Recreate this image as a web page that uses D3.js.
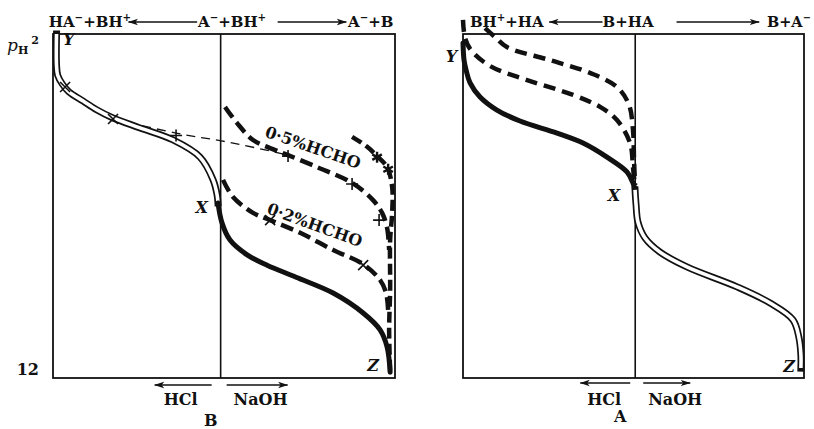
<!DOCTYPE html>
<html>
<head>
<meta charset="utf-8">
<script src="https://cdn.jsdelivr.net/npm/d3@7"></script>
<style>
  html, body { margin: 0; padding: 0; background: #fff; }
  svg { display: block; }
  text { font-family: "DejaVu Serif", "Liberation Serif", serif; font-weight: bold; fill: #111; }
</style>
</head>
<body>
<script>
// ---------- DATA (x: titrant, HCl negative / NaOH positive ; y: pH, 2 at top, 12 at bottom) ----------
const yTicks = [2, 12];

// Panel B (left)
const bTube      = [[-9.79,2.0],[-9.79,2.9],[-9.72,3.2],[-9.45,3.45],[-9.05,3.68],[-8.2,3.95],[-7.4,4.2],[-6.42,4.44],[-4.81,4.73],[-2.84,5.08],[-1.23,5.58],[-0.45,6.24],[-0.21,6.68],[-0.16,6.91]];
const bSolid     = [[-0.16,6.91],[0.08,7.49],[0.56,7.99],[1.58,8.42],[2.77,8.72],[4.5,9.07],[6.71,9.53],[8.50,10.11],[9.51,10.60],[9.93,11.10],[10.11,11.83]];
const bThinDash  = [[-6.42,4.47],[-2.66,4.88],[0.74,5.17],[4.02,5.52]];
const bHcho05    = [[0.26,4.12],[0.98,4.59],[1.93,5.08],[3.07,5.34],[4.02,5.52],[5.75,5.87],[7.84,6.33],[9.09,6.83],[9.63,7.20],[9.93,7.64],[10.05,8.28]];
const bStar      = [[7.84,4.99],[8.74,5.28],[9.33,5.55],[9.93,5.87],[10.23,6.45],[10.23,7.20],[10.11,7.99],[10.11,9.44],[10.05,10.60],[10.11,11.77]];
const bHcho02    = [[0.14,6.24],[0.74,6.74],[1.93,7.20],[2.95,7.41],[4.74,7.78],[6.71,8.28],[8.50,8.69],[9.51,9.15],[9.87,9.53],[9.99,10.02]];
const bCrossPts  = [[-9.28,3.54],[-6.42,4.47],[2.95,7.41],[8.50,8.72]];
const bPlusPts   = [[-2.66,4.95],[4.02,5.55],[7.84,6.36],[9.45,7.41]];
const bStarPts   = [[9.33,5.58],[9.99,5.93]];

// Panel A (right)
const aSolid     = [[-10,2.26],[-9.94,2.76],[-9.82,3.05],[-9.59,3.42],[-9.01,3.83],[-8.03,4.21],[-6.69,4.53],[-4.54,4.88],[-3.03,5.17],[-1.64,5.58],[-0.48,6.01],[-0.13,6.33],[-0.01,6.53]];
const aDashUpper = [[-8.72,1.83],[-8.14,2.09],[-7.45,2.38],[-4.95,2.76],[-2.63,3.13],[-1.06,3.54],[-0.36,4.06],[-0.13,4.79],[-0.07,5.66],[-0.01,6.39]];
const aDashLower = [[-10,1.59],[-9.88,2.12],[-9.54,2.47],[-8.43,2.93],[-6.28,3.34],[-3.61,3.77],[-2.04,4.12],[-1.06,4.50],[-0.30,5.17],[-0.13,5.87],[-0.01,6.48]];
const aTube      = [[-0.01,6.53],[0.05,6.97],[0.16,7.47],[0.57,7.93],[1.44,8.34],[3.00,8.77],[5.91,9.35],[7.83,9.82],[9.16,10.31],[9.50,10.81],[9.62,11.33],[9.62,11.71]];

// Labels
const bTop = [ [{t:"HA"},{t:"−",sup:1},{t:"+BH"},{t:"+",sup:1}], [{t:"A"},{t:"−",sup:1},{t:"+BH"},{t:"+",sup:1}], [{t:"A"},{t:"−",sup:1},{t:"+B"}] ];
const aTop = [ [{t:"BH"},{t:"+",sup:1},{t:"+HA"}], [{t:"B+HA"}], [{t:"B+A"},{t:"−",sup:1}] ];
const bottomLabels = ["HCl", "NaOH"];
const panelNames = ["B", "A"];
const hchoLabels = ["0·5%HCHO", "0·2%HCHO"];

// ---------- DRAWING ----------
const W = 814, H = 429;
const svg = d3.select("body").append("svg").attr("width", W).attr("height", H);

const defs = svg.append("defs");
defs.append("marker").attr("id","arr").attr("viewBox","0 0 10 8")
  .attr("refX",9.5).attr("refY",4).attr("markerWidth",10).attr("markerHeight",8)
  .attr("markerUnits","userSpaceOnUse").attr("orient","auto")
  .append("path").attr("d","M0,0.8 L10,4 L0,7.2 L2.5,4 Z").attr("fill","#111");

const y = d3.scaleLinear().domain([2, 12]).range([34, 378]);
const xB = d3.scaleLinear().domain([-10, 10.4]).range([53, 395]);
const xA = d3.scaleLinear().domain([-10, 9.8]).range([463, 804]);

const lineGen = (xs) => d3.line().x(d => xs(d[0])).y(d => y(d[1])).curve(d3.curveCatmullRom.alpha(0.5));

function frame(xs) {
  const g = svg.append("g");
  const [x0, x1] = xs.domain();
  g.append("rect").attr("x", xs(x0)).attr("y", y(2)).attr("width", xs(x1) - xs(x0)).attr("height", y(12) - y(2))
    .attr("fill","none").attr("stroke","#111").attr("stroke-width",1.8);
  g.append("line").attr("x1", xs(0)).attr("x2", xs(0)).attr("y1", y(2)).attr("y2", y(12))
    .attr("stroke","#111").attr("stroke-width",1.6);
}
frame(xB); frame(xA);

function solid(xs, data, w) {
  svg.append("path").attr("d", lineGen(xs)(data)).attr("fill","none").attr("stroke","#111")
    .attr("stroke-width", w).attr("stroke-linecap","round");
}
function dashed(xs, data, w, dash) {
  svg.append("path").attr("d", lineGen(xs)(data)).attr("fill","none").attr("stroke","#111")
    .attr("stroke-width", w).attr("stroke-dasharray", dash).attr("stroke-linecap","butt");
}
function tube(xs, data) {
  const d = lineGen(xs)(data);
  svg.append("path").attr("d", d).attr("fill","none").attr("stroke","#111").attr("stroke-width",7).attr("stroke-linecap","square");
  svg.append("path").attr("d", d).attr("fill","none").attr("stroke","#fff").attr("stroke-width",3.6).attr("stroke-linecap","butt");
}

// Panel B curves
dashed(xB, bThinDash, 1.3, "9,6");
tube(xB, bTube);
solid(xB, bSolid, 5);
dashed(xB, bHcho05, 4.5, "13,6");
dashed(xB, bStar, 4.5, "11,5");
dashed(xB, bHcho02, 4.5, "13,6");

// Panel A curves
dashed(xA, aDashUpper, 4.5, "12,7");
dashed(xA, aDashLower, 4.5, "12,7");
solid(xA, aSolid, 5);
tube(xA, aTube);

// point markers
const mk = svg.append("g").attr("stroke","#111").attr("stroke-width",1.6).attr("fill","none");
bCrossPts.forEach(p => { const cx = xB(p[0]), cy = y(p[1]);
  mk.append("path").attr("d", `M${cx-5},${cy-5}L${cx+5},${cy+5}M${cx-5},${cy+5}L${cx+5},${cy-5}`); });
bPlusPts.forEach(p => { const cx = xB(p[0]), cy = y(p[1]);
  mk.append("path").attr("d", `M${cx-6},${cy}L${cx+6},${cy}M${cx},${cy-6}L${cx},${cy+6}`); });
bStarPts.forEach(p => { const cx = xB(p[0]), cy = y(p[1]); const r = 5.5;
  let d = "";
  [90, 30, 150].forEach(a => { const dx = r*Math.cos(a*Math.PI/180), dy = r*Math.sin(a*Math.PI/180);
    d += `M${cx-dx},${cy-dy}L${cx+dx},${cy+dy}`; });
  mk.append("path").attr("d", d).attr("stroke-width",2.4); });

// rich text helper
function rich(x, yy, parts, size, anchor) {
  const t = svg.append("text").attr("x", x).attr("y", yy).attr("font-size", size).attr("text-anchor", anchor || "start");
  let shifted = 0;
  parts.forEach(p => {
    const ts = t.append("tspan").text(p.t);
    if (p.sup) { ts.attr("dy", -6 - shifted).attr("font-size", size * 0.68); shifted = -6; }
    else if (p.sub) { ts.attr("dy", 4 - shifted).attr("font-size", size * 0.75); shifted = 4; }
    else { if (shifted) ts.attr("dy", -shifted); shifted = 0; }
  });
  return t;
}
function arrow(x1, y1, x2, y2) {
  svg.append("line").attr("x1", x1).attr("y1", y1).attr("x2", x2).attr("y2", y2)
    .attr("stroke","#111").attr("stroke-width",1.4).attr("marker-end","url(#arr)");
}

// top labels panel B
const fs = 15;
rich(xB(-10.25), 27, bTop[0], fs);
arrow(xB(-1.4), 22, xB(-5.5), 22);
rich(xB(-1.35), 27, bTop[1], fs);
arrow(xB(3.4), 22, xB(7.5), 22);
rich(xB(7.6), 27, bTop[2], fs);

// top labels panel A
rich(xA(-9.6), 27, aTop[0], fs);
arrow(xA(-1.9), 22, xA(-5.0), 22);
rich(xA(-1.9), 27, aTop[1], fs);
arrow(xA(2.4), 22, xA(7.2), 22);
rich(xA(7.65), 27, aTop[2], 14.5);

// y-axis (only panel B): "p_H 2" at top and "12" at bottom
const yAxis = d3.axisLeft(y).tickValues([12]).tickSize(0).tickFormat(d3.format("d"));
const ga = svg.append("g").attr("transform", `translate(${xB(-10) - 11},0)`).call(yAxis);
ga.select(".domain").remove();
ga.selectAll("text").attr("font-family", "'DejaVu Serif', serif").attr("font-weight","bold")
  .attr("font-size", 16).attr("fill","#111").attr("dy", "-0.2em");
const ph = svg.append("text").attr("x", 7).attr("y", 51).attr("font-size", 17);
ph.append("tspan").text("p").attr("font-style","italic").attr("font-weight","normal");
ph.append("tspan").text("H").attr("font-size", 11).attr("dy", 3);
ph.append("tspan").text(String(yTicks[0])).attr("font-size", 11).attr("dy", -10).attr("dx", 3);

// point letters
function letter(x, yy, s) {
  svg.append("text").attr("x", x).attr("y", yy).attr("font-size", 16).attr("font-style","italic").text(s);
}
letter(xB(-9.4), y(2.33), "Y");
letter(xB(-1.5), y(7.2), "X");
letter(xB(8.75), y(11.8), "Z");
letter(xA(-11.0), y(2.82), "Y");
letter(xA(-1.6), y(6.85), "X");
letter(xA(8.6), y(11.82), "Z");

// HCHO labels
svg.append("text").attr("font-size", 16).attr("text-anchor","middle")
  .attr("transform", `translate(${xB(5.4)},${y(5.45)}) rotate(19)`).text(hchoLabels[0]);
svg.append("text").attr("font-size", 16).attr("text-anchor","middle")
  .attr("transform", `translate(${xB(5.5)},${y(7.7)}) rotate(20)`).text(hchoLabels[1]);

// bottom labels
const bottomCfg = [
  {xs: xB, ay: 385, hcl: [-9, -66], naoh: [6, 67], hclText: -40, naohText: 40, nameDx: -10, nameY: 426},
  {xs: xA, ay: 383, hcl: [-5, -55], naoh: [8, 55], hclText: -31, naohText: 40, nameDx: -15, nameY: 422}
];
bottomCfg.forEach((cfg, i) => {
  const c = cfg.xs(0);
  arrow(c + cfg.hcl[0], cfg.ay, c + cfg.hcl[1], cfg.ay);
  arrow(c + cfg.naoh[0], cfg.ay, c + cfg.naoh[1], cfg.ay);
  svg.append("text").attr("x", c + cfg.hclText).attr("y", 405).attr("font-size", 16).attr("text-anchor","middle").text(bottomLabels[0]);
  svg.append("text").attr("x", c + cfg.naohText).attr("y", 405).attr("font-size", 16).attr("text-anchor","middle").text(bottomLabels[1]);
  svg.append("text").attr("x", c + cfg.nameDx).attr("y", cfg.nameY).attr("font-size", 16).attr("text-anchor","middle").text(panelNames[i]);
});
</script>
</body>
</html>
